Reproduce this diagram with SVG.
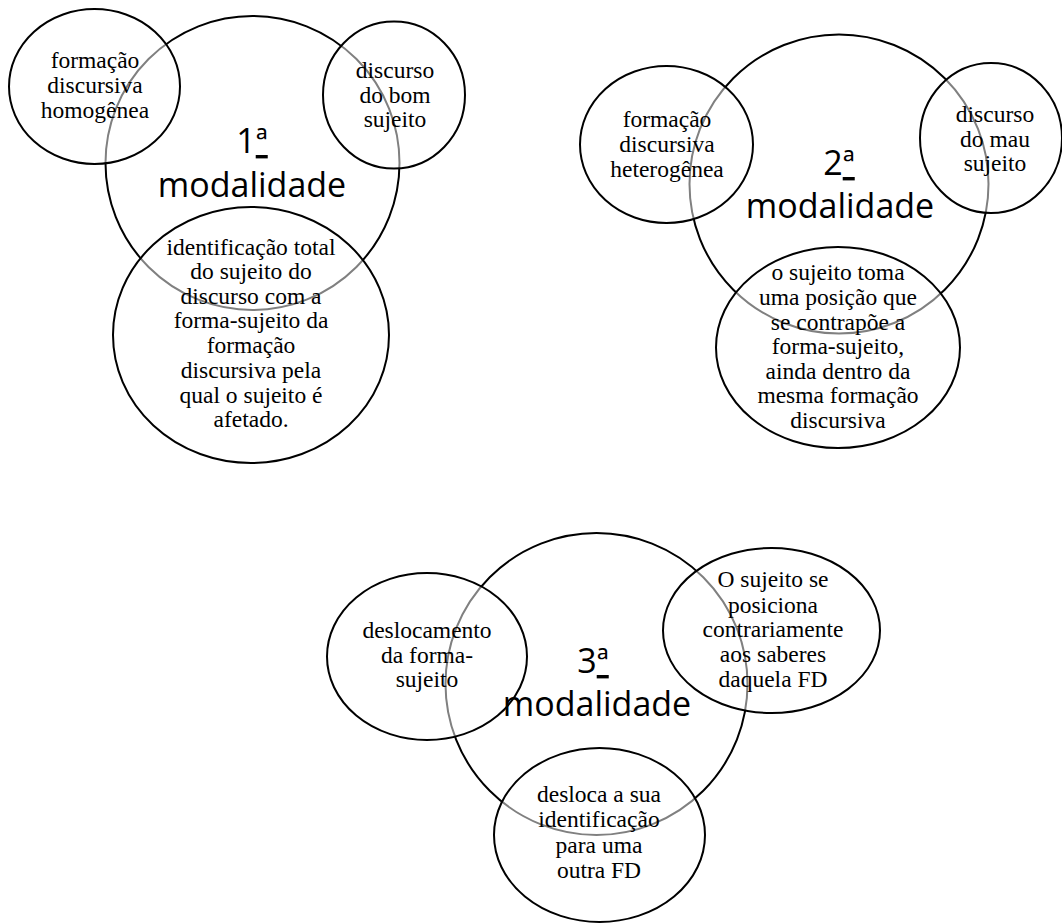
<svg xmlns="http://www.w3.org/2000/svg" width="1062" height="923" viewBox="0 0 1062 923">
  <style>
    .big { fill: #ffffff; stroke: #000000; stroke-width: 2; }
    .small { fill: #ffffff; fill-opacity: 0.5; stroke: #000000; stroke-width: 2; }
    .t { font-family: "Liberation Serif", "Times New Roman", serif; font-size: 23.5px; fill: #000000; text-anchor: middle; }
    .m { font-family: "Open Sans", "Liberation Sans", sans-serif; font-size: 34px; fill: #000000; text-anchor: middle; }
    .ord { text-decoration: underline; }
  </style>
  <rect width="1062" height="923" fill="#ffffff"/>

  <!-- first modality -->
  <g id="mod1">
    <circle class="big" cx="252.5" cy="163" r="147"/>
  </g>
  <g id="mod1-fd-homogenea">
    <ellipse class="small" cx="94.5" cy="86.5" rx="85.5" ry="77.5"/>
  </g>
  <g id="mod1-bom-sujeito">
    <ellipse class="small" cx="394" cy="95" rx="71" ry="73.5"/>
  </g>
  <g id="mod1-identificacao">
    <ellipse class="small" cx="251" cy="335" rx="138" ry="128"/>
  </g>
  <g id="mod1-text">
    <text class="m" x="252" y="153">1<tspan class="ord">ª</tspan></text>
    <text class="m" x="252" y="197">modalidade</text>
    <text class="t" x="95" y="68">formação</text>
    <text class="t" x="95" y="93">discursiva</text>
    <text class="t" x="95" y="118">homogênea</text>
    <text class="t" x="395" y="78">discurso</text>
    <text class="t" x="395" y="103">do bom</text>
    <text class="t" x="395" y="127">sujeito</text>
    <text class="t" x="251" y="255">identificação total</text>
    <text class="t" x="251" y="279">do sujeito do</text>
    <text class="t" x="251" y="304">discurso com a</text>
    <text class="t" x="251" y="328">forma-sujeito da</text>
    <text class="t" x="251" y="353">formação</text>
    <text class="t" x="251" y="378">discursiva pela</text>
    <text class="t" x="251" y="403">qual o sujeito é</text>
    <text class="t" x="251" y="427">afetado.</text>
  </g>

  <!-- second modality -->
  <g id="mod2">
    <circle class="big" cx="839" cy="184" r="149.5"/>
  </g>
  <g id="mod2-fd-heterogenea">
    <ellipse class="small" cx="666.5" cy="144.5" rx="86.5" ry="78.5"/>
  </g>
  <g id="mod2-mau-sujeito">
    <ellipse class="small" cx="991" cy="138" rx="71" ry="75"/>
  </g>
  <g id="mod2-contrapoe">
    <ellipse class="small" cx="838" cy="347.5" rx="122" ry="100.5"/>
  </g>
  <g id="mod2-text">
    <text class="m" x="839" y="175">2<tspan class="ord">ª</tspan></text>
    <text class="m" x="840" y="218">modalidade</text>
    <text class="t" x="667" y="127">formação</text>
    <text class="t" x="667" y="152">discursiva</text>
    <text class="t" x="667" y="177">heterogênea</text>
    <text class="t" x="995" y="122">discurso</text>
    <text class="t" x="995" y="147">do mau</text>
    <text class="t" x="995" y="171">sujeito</text>
    <text class="t" x="838" y="280">o sujeito toma</text>
    <text class="t" x="838" y="305">uma posição que</text>
    <text class="t" x="838" y="330">se contrapõe a</text>
    <text class="t" x="838" y="354">forma-sujeito,</text>
    <text class="t" x="838" y="379">ainda dentro da</text>
    <text class="t" x="838" y="403">mesma formação</text>
    <text class="t" x="838" y="428">discursiva</text>
  </g>

  <!-- third modality -->
  <g id="mod3">
    <circle class="big" cx="596.5" cy="684" r="151"/>
  </g>
  <g id="mod3-deslocamento">
    <ellipse class="small" cx="427" cy="656.5" rx="100" ry="83.5"/>
  </g>
  <g id="mod3-contrariamente">
    <ellipse class="small" cx="771.5" cy="630.5" rx="108.5" ry="82.5"/>
  </g>
  <g id="mod3-outra-fd">
    <ellipse class="small" cx="599.5" cy="835" rx="105.5" ry="87"/>
  </g>
  <g id="mod3-text">
    <text class="m" x="593" y="673">3<tspan class="ord">ª</tspan></text>
    <text class="m" x="597" y="716">modalidade</text>
    <text class="t" x="427" y="638">deslocamento</text>
    <text class="t" x="427" y="663">da forma-</text>
    <text class="t" x="427" y="687">sujeito</text>
    <text class="t" x="773" y="587">O sujeito se</text>
    <text class="t" x="773" y="613">posiciona</text>
    <text class="t" x="773" y="637">contrariamente</text>
    <text class="t" x="773" y="662">aos saberes</text>
    <text class="t" x="773" y="687">daquela FD</text>
    <text class="t" x="599" y="802">desloca a sua</text>
    <text class="t" x="599" y="827">identificação</text>
    <text class="t" x="599" y="853">para uma</text>
    <text class="t" x="599" y="878">outra FD</text>
  </g>
</svg>
